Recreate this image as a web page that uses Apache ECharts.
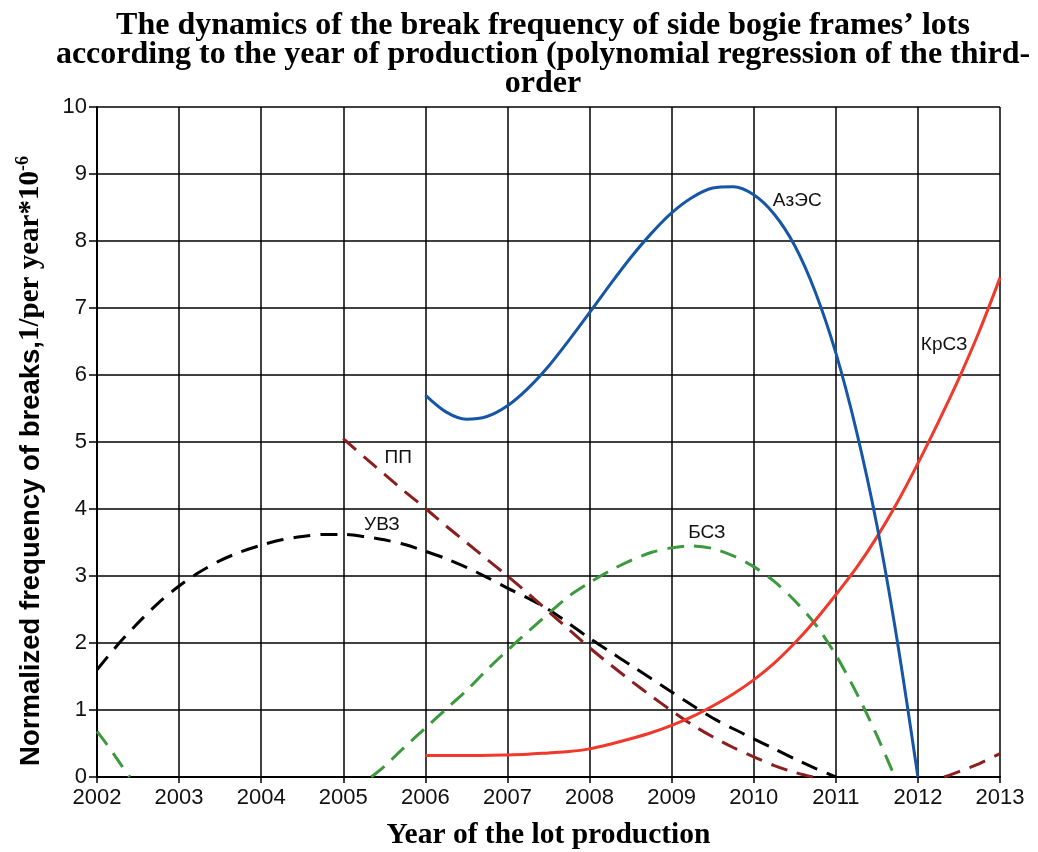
<!DOCTYPE html>
<html><head><meta charset="utf-8">
<script src="https://cdn.jsdelivr.net/npm/echarts@6/dist/echarts.min.js"></script>
<style>html,body{margin:0;padding:0;background:#fff}#c{width:1038px;height:852px}</style>
</head><body><div id="c"></div>
<script>
// ---- data ----
const xTicks = [2002,2003,2004,2005,2006,2007,2008,2009,2010,2011,2012,2013];
const yTicks = [0,1,2,3,4,5,6,7,8,9,10];

const azesYears  = [2006,2006.25,2006.5,2006.75,2007,2007.25,2007.5,2007.75,2008,2008.25,2008.5,2008.75,2009,2009.25,2009.5,2009.75,2010,2010.25,2010.5,2010.75,2011,2011.25,2011.5,2011.75,2012];
const azesValues = [5.70,5.45,5.34,5.38,5.54,5.80,6.13,6.52,6.93,7.35,7.75,8.11,8.42,8.65,8.79,8.81,8.69,8.40,7.93,7.24,6.33,5.17,3.76,2.02,0];

const krszYears  = [2006,2006.5,2007,2007.25,2007.5,2007.75,2008,2008.25,2008.5,2008.75,2009,2009.25,2009.5,2009.75,2010,2010.25,2010.5,2010.75,2011,2011.25,2011.5,2011.75,2012,2012.25,2012.5,2012.75,2013];
const krszValues = [0.32,0.32,0.33,0.34,0.36,0.38,0.42,0.49,0.57,0.66,0.77,0.90,1.06,1.24,1.45,1.70,2.00,2.34,2.72,3.12,3.58,4.10,4.68,5.30,5.95,6.66,7.45];

const ppYearsA  = [2005,2005.25,2005.5,2005.75,2006,2006.25,2006.5,2006.75,2007,2007.25,2007.5,2007.75,2008,2008.25,2008.5,2008.75,2009,2009.25,2009.5,2009.75,2010,2010.25,2010.5,2010.72];
const ppValuesA = [5.05,4.78,4.52,4.26,4.01,3.75,3.50,3.25,3.00,2.74,2.47,2.20,1.93,1.68,1.44,1.21,0.99,0.78,0.60,0.44,0.30,0.17,0.07,0];
const ppYearsB  = [2012.32,2012.5,2012.75,2013];
const ppValuesB = [0,0.08,0.20,0.35];

const uvzYears  = [2002,2002.25,2002.5,2002.75,2003,2003.25,2003.5,2003.75,2004,2004.25,2004.5,2004.75,2005,2005.25,2005.5,2005.75,2006,2006.25,2006.5,2006.75,2007,2007.25,2007.5,2007.75,2008,2008.25,2008.5,2008.75,2009,2009.25,2009.5,2009.75,2010,2010.25,2010.5,2010.75,2011];
const uvzValues = [1.60,1.97,2.30,2.60,2.85,3.06,3.23,3.36,3.46,3.54,3.59,3.62,3.62,3.59,3.54,3.47,3.37,3.26,3.13,2.98,2.82,2.67,2.50,2.29,2.07,1.87,1.67,1.47,1.27,1.07,0.88,0.72,0.57,0.42,0.27,0.13,0];

const bszYearsA  = [2002,2002.1,2002.2,2002.3,2002.4];
const bszValuesA = [0.68,0.52,0.35,0.17,0];
const bszYearsB  = [2005.34,2005.5,2005.75,2006,2006.25,2006.5,2006.75,2007,2007.25,2007.5,2007.75,2008,2008.25,2008.5,2008.75,2009,2009.25,2009.5,2009.75,2010,2010.25,2010.5,2010.75,2011,2011.25,2011.5,2011.72];
const bszValuesB = [0,0.16,0.45,0.73,1.01,1.29,1.60,1.89,2.17,2.44,2.70,2.90,3.08,3.23,3.35,3.42,3.45,3.41,3.30,3.14,2.92,2.63,2.28,1.82,1.26,0.62,0];

const seriesNames = ['АзЭС','КрСЗ','ПП','УВЗ','БСЗ'];
const labelAnchors = { 'АзЭС':[2010.53,8.60], 'КрСЗ':[2012.32,6.45], 'ПП':[2005.67,4.76], 'УВЗ':[2005.47,3.77], 'БСЗ':[2009.43,3.65] };

const titleLines = ['The dynamics of the break frequency of side bogie frames\u2019 lots',
  'according to the year of production (polynomial regression of the third-',
  'order'];
const xName = 'Year of the lot production';
const yNameMain = 'Normalized frequency of breaks,';
const yNameUnit = '1/per year*10';
const yNameExp = '-6';

// ---- build ----
const pairs = (xs, ys) => xs.map((x,i)=>[x, ys[i]]);
const colors = { 'АзЭС':'#1656a6', 'КрСЗ':'#f0392b', 'ПП':'#8b1f1f', 'УВЗ':'#000000', 'БСЗ':'#3d993d' };
const dash = [17, 10];

function mk(name, data, dashed, withLabel) {
  const s = {
    type:'line', name, data, showSymbol:false, symbol:'none', smooth:0.3, clip:true,
    lineStyle:{ color: colors[name], width: 3, type: dashed ? dash : 'solid' },
    z: 3
  };
  if (withLabel) {
    s.markPoint = { symbol:'circle', symbolSize:0, silent:true, data:[{ coord: labelAnchors[name], value: name }],
      label:{ show:true, formatter: name, color:'#111', fontFamily:'Liberation Sans, Arial, sans-serif', fontSize:19, position:'inside' } };
  }
  return s;
}

const chart = echarts.init(document.getElementById('c'), null, {renderer:'canvas'});
chart.setOption({
  backgroundColor:'#fff',
  animation:false,
  title:{ text: titleLines.join('\n'), left:543, textAlign:'center', top:11, padding:0,
    textStyle:{ fontFamily:'Liberation Serif, Times New Roman, serif', fontWeight:'bold', fontSize:32, lineHeight:29, color:'#000' } },
  grid:{ left:97, right:38, top:107, bottom:75, containLabel:false, outerBoundsMode:'none' },
  xAxis:{ type:'value', min:2002, max:2013, interval:1,
    name: xName, nameLocation:'middle', nameGap:43,
    nameTextStyle:{ fontFamily:'Liberation Serif, serif', fontWeight:'bold', fontSize:29.5, color:'#000' },
    axisLine:{ show:true, lineStyle:{ color:'#000', width:2 } },
    axisTick:{ show:true, length:6, lineStyle:{ color:'#000', width:1.5 } },
    axisLabel:{ color:'#111', fontFamily:'Liberation Sans, Arial, sans-serif', fontSize:22, margin:10, formatter: v => String(v) },
    splitLine:{ show:true, lineStyle:{ color:'#000', width:1.5 } } },
  yAxis:{ type:'value', min:0, max:10, interval:1,
    name:'{a|' + yNameMain + '}{c|' + yNameUnit + '}{b|' + yNameExp + '}', nameLocation:'middle', nameGap:49, nameRotate:90,
    nameTextStyle:{ padding:[0,38,0,0], rich:{
      a:{ fontFamily:'Liberation Sans, Arial, sans-serif', fontWeight:'bold', fontSize:27.5, color:'#000' },
      c:{ fontFamily:'Liberation Serif, serif', fontWeight:'bold', fontSize:29, color:'#000' },
      b:{ fontFamily:'Liberation Serif, serif', fontWeight:'bold', fontSize:18, color:'#000', padding:[0,0,16,0] } } },
    axisLine:{ show:true, lineStyle:{ color:'#000', width:2 } },
    axisTick:{ show:true, length:8, lineStyle:{ color:'#000', width:1.5 } },
    axisLabel:{ color:'#111', fontFamily:'Liberation Sans, Arial, sans-serif', fontSize:22, margin:10 },
    splitLine:{ show:true, lineStyle:{ color:'#000', width:1.5 } } },
  series:[
    mk('УВЗ', pairs(uvzYears, uvzValues), true, true),
    mk('БСЗ', pairs(bszYearsA, bszValuesA), true, false),
    mk('БСЗ', pairs(bszYearsB, bszValuesB), true, true),
    mk('ПП', pairs(ppYearsA, ppValuesA), true, true),
    mk('ПП', pairs(ppYearsB, ppValuesB), true, false),
    mk('КрСЗ', pairs(krszYears, krszValues), false, true),
    mk('АзЭС', pairs(azesYears, azesValues), false, true)
  ]
});
</script></body></html>
